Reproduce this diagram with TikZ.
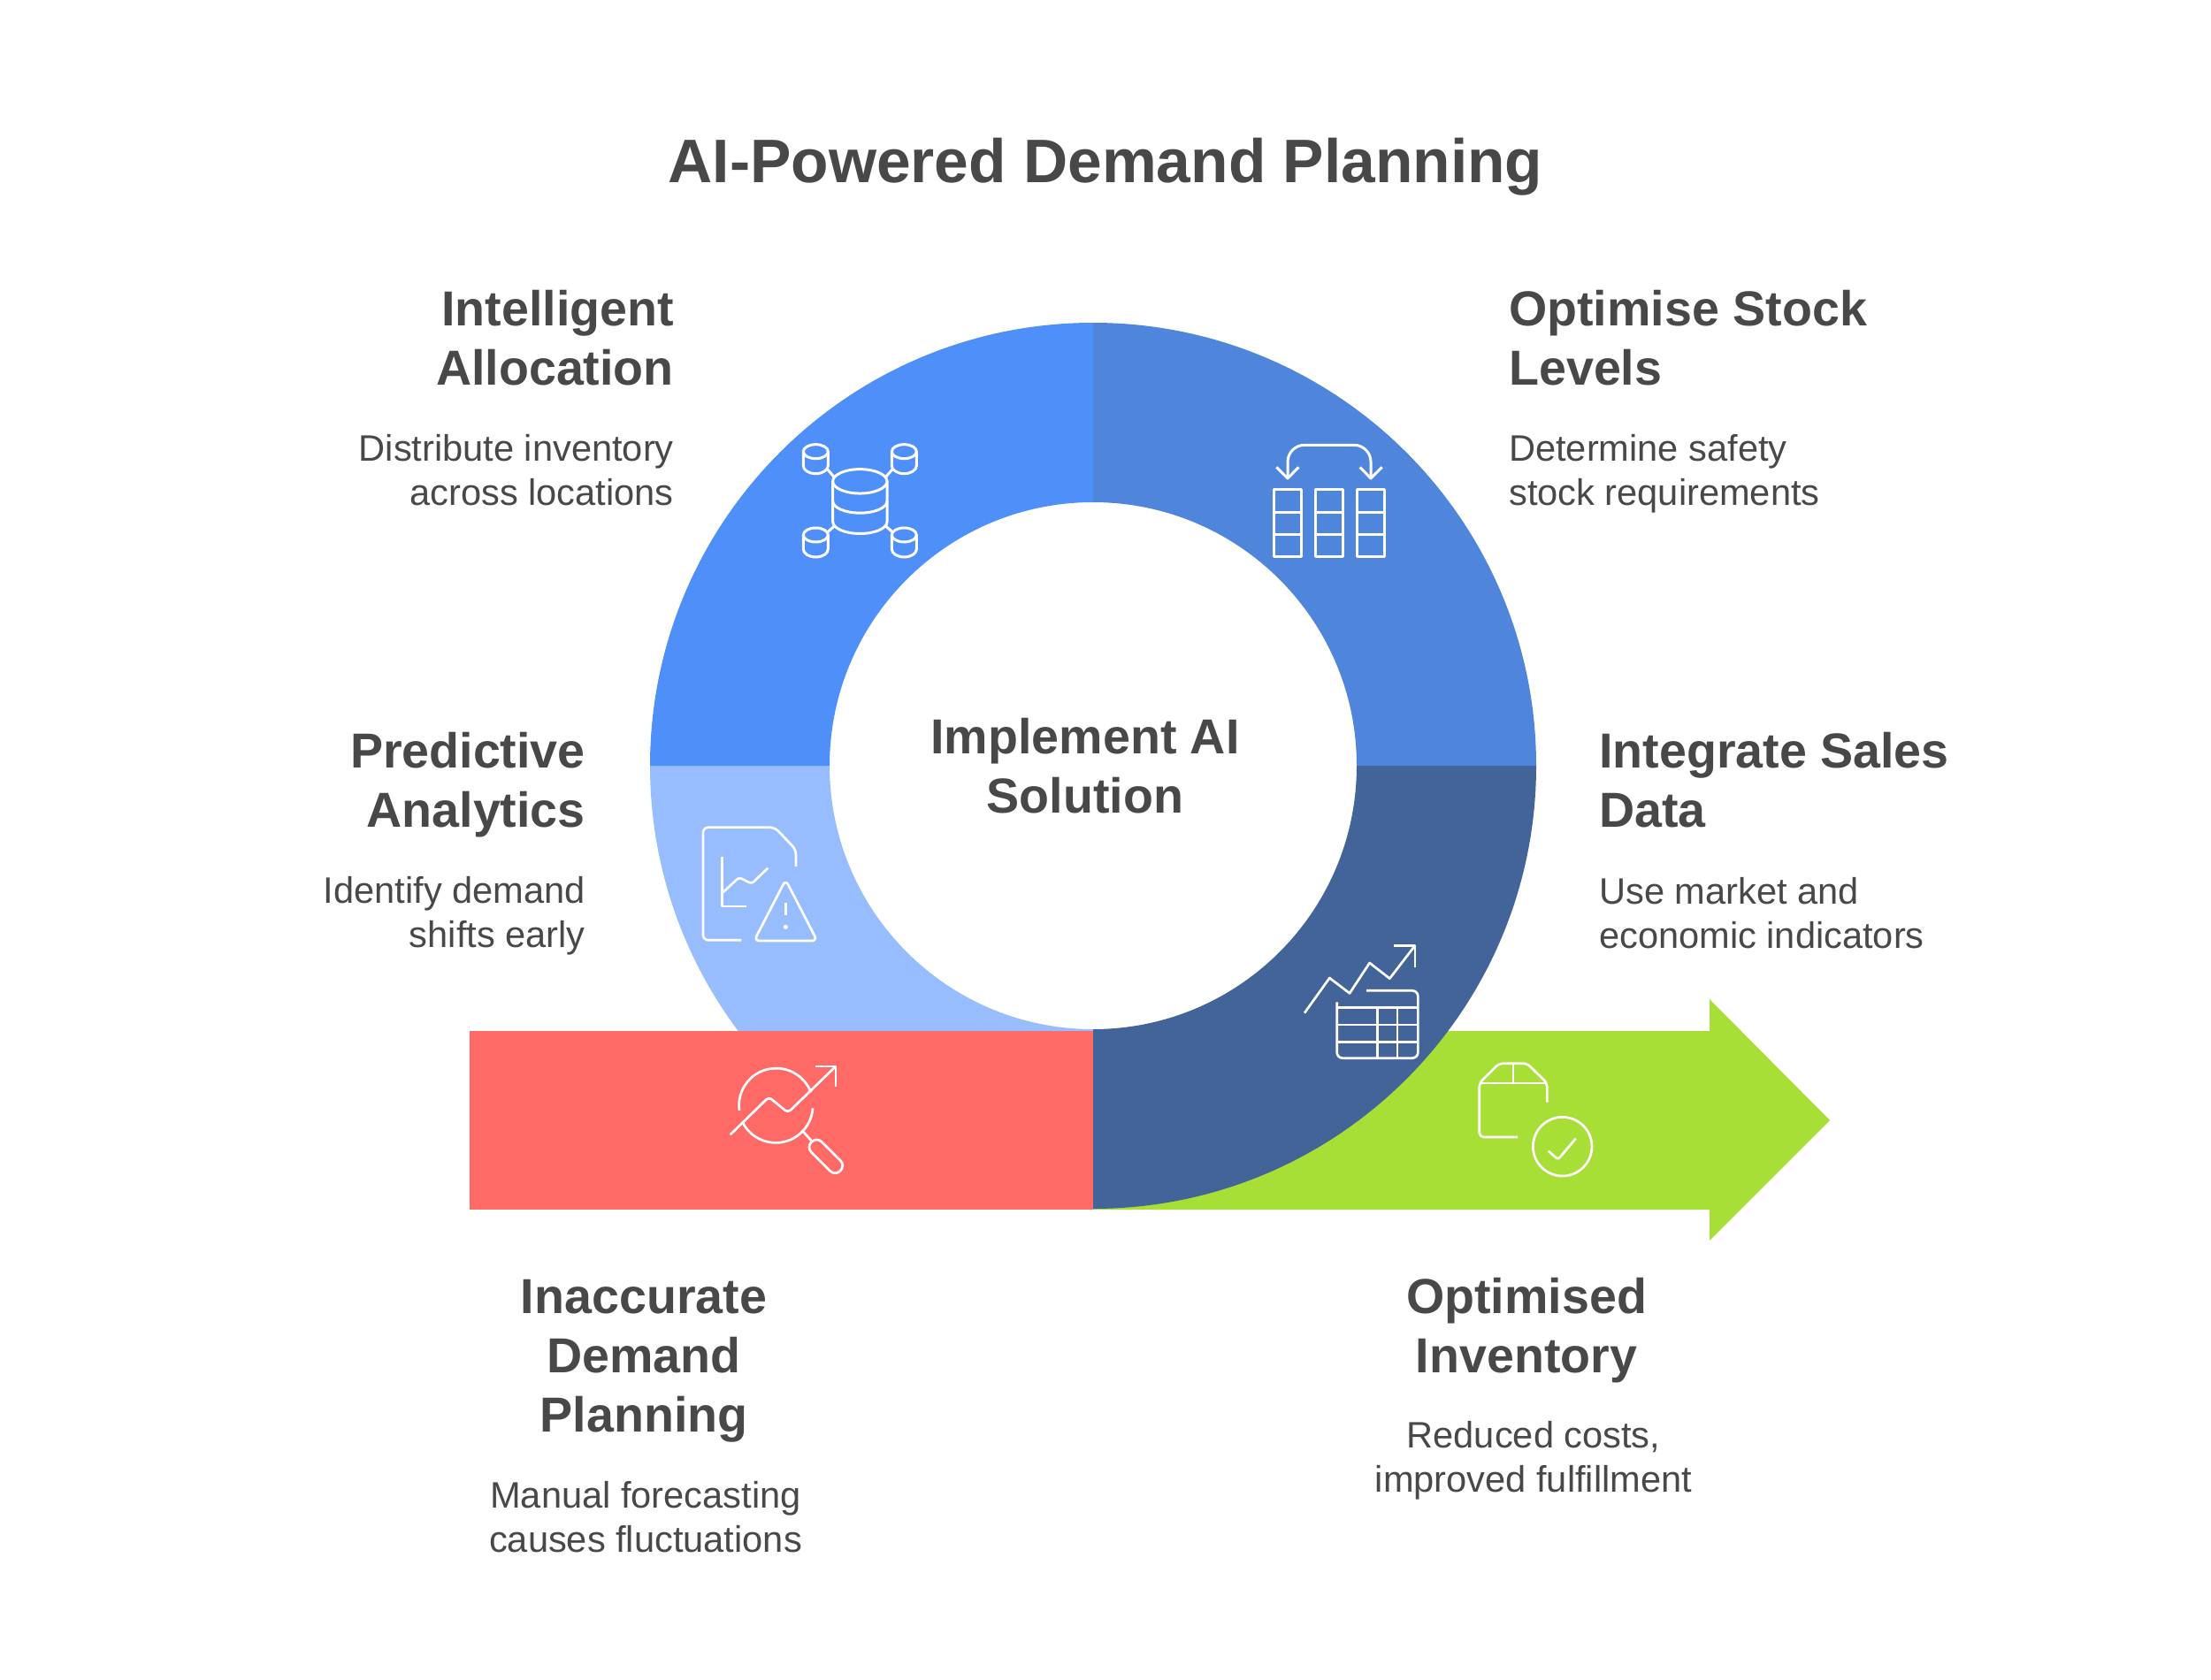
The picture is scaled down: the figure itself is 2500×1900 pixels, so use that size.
\documentclass[tikz,border=0pt]{standalone}
\usepackage{fontspec}
\setmainfont{Liberation Sans}
\definecolor{txt}{HTML}{484848}
\definecolor{bluea}{HTML}{4F8FFA}
\definecolor{blueb}{HTML}{5085DC}
\definecolor{bluec}{HTML}{436499}
\definecolor{blued}{HTML}{97BDFE}
\definecolor{redbar}{HTML}{FF6A67}
\definecolor{greenbar}{HTML}{A8DF37}
\tikzset{
  head/.style={font=\bfseries\fontsize{55.6}{67}\selectfont,text=txt,inner sep=0pt},
  desc/.style={font=\fontsize{41.6}{50}\selectfont,text=txt,inner sep=0pt},
  icon/.style={draw=white,line width=3pt,line join=round,fill=none},
  thin icon/.style={draw=white,line width=2.7pt,line join=round,fill=none},
  zoomed/.style={shift={#1},x=0.33333pt,y=-0.33333pt}
}
\newcommand{\smallcyl}[2]{%
  \draw[icon] (#1,#2) ellipse [x radius=14pt,y radius=8pt];
  \draw[icon] ({#1-42},#2) -- ({#1-42},{#2+48}) arc[start angle=180,end angle=360,x radius=14pt,y radius=9pt] -- ({#1+42},#2);
}
\begin{document}
\begin{tikzpicture}[x=1pt,y=-1pt]
\useasboundingbox (0,0) rectangle (2500,1900);
\fill[white] (0,0) rectangle (2500,1900);
% ring, lower-left part lies under the bar
\fill[blued] (735,866) arc[start angle=180,end angle=270,radius=501pt] -- (1236,1164) arc[start angle=270,end angle=180,radius=298pt] -- cycle;
% bar and arrow
\fill[redbar] (531,1166) rectangle (1236,1368);
\fill[greenbar] (1236,1166) -- (1933,1166) -- (1933,1130) -- (2069,1267) -- (1933,1403) -- (1933,1368) -- (1236,1368) -- cycle;
% other ring segments
\fill[bluea] (735,866) arc[start angle=180,end angle=90,radius=501pt] -- (1236,568) arc[start angle=90,end angle=180,radius=298pt] -- cycle;
\fill[blueb] (1236,365) arc[start angle=90,end angle=0,radius=501pt] -- (1534,866) arc[start angle=0,end angle=90,radius=298pt] -- cycle;
\fill[bluec] (1737,866) arc[start angle=0,end angle=-90,radius=501pt] -- (1236,1164) arc[start angle=-90,end angle=0,radius=298pt] -- cycle;

% icon: database network
\begin{scope}[zoomed={(860,460)}]
  \smallcyl{187}{152}\smallcyl{487}{152}\smallcyl{187}{435}\smallcyl{487}{435}
  \draw[icon] (337,253) ellipse [x radius=30.7pt,y radius=13.7pt];
  \draw[icon] (245,253) -- (245,390) arc[start angle=180,end angle=360,x radius=30.7pt,y radius=13.5pt] -- (429,253);
  \draw[icon] (245,320) arc[start angle=180,end angle=360,x radius=30.7pt,y radius=13.5pt];
  \draw[icon] (225,210) -- (248,237) (449,210) -- (426,237) (228,425) -- (250,405) (447,425) -- (425,405);
\end{scope}
% icon: stock columns
\begin{scope}[zoomed={(1400,460)}]
  \foreach \cx in {120,261,403}{
    \draw[icon] (\cx,281) rectangle ({\cx+94},508);
    \draw[icon] (\cx,357) -- ({\cx+94},357) (\cx,433) -- ({\cx+94},433);
  }
  \draw[icon,rounded corners=19pt] (168,240) -- (168,130) -- (450,130) -- (450,240);
  \draw[icon] (130,205) -- (168,243) -- (205,205) (413,205) -- (450,243) -- (488,205);
\end{scope}
% icon: document with warning
\begin{scope}[zoomed={(770,900)}]
  \draw[thin icon,rounded corners=6pt] (205,490) -- (75,490) -- (75,107) -- (318,107) -- (390,183) -- (390,240);
  \draw[thin icon] (140,208) -- (140,375) -- (222,375);
  \draw[thin icon,rounded corners=3pt] (140,330) -- (197,277) -- (240,298) -- (295,245);
  \draw[thin icon,rounded corners=6pt] (355,285) -- (248,492) -- (462,492) -- cycle;
  \draw[thin icon] (355,362) -- (355,405);
  \fill[white] (355,445) circle [radius=2.6pt];
\end{scope}
% icon: trend and table
\begin{scope}[zoomed={(1450,1050)}]
  \draw[thin icon] (75,287) -- (160,168) -- (228,220) -- (296,117) -- (364,170) -- (450,58);
  \draw[thin icon] (377,58) -- (450,58) -- (450,132);
  \draw[thin icon,rounded corners=6.5pt] (285,211) -- (460,211) -- (460,440) -- (185,440) -- (185,250);
  \draw[thin icon] (185,268) -- (460,268) (185,327) -- (460,327) (185,386) -- (460,386);
  \draw[thin icon] (323,268) -- (323,440) (390,268) -- (390,440);
\end{scope}
% icon: magnifier
\begin{scope}[zoomed={(810,1190)}]
  \draw[thin icon] (78,198) arc[start angle=188,end angle=21,radius=42pt];
  \draw[thin icon] (327,190) arc[start angle=-4,end angle=-154,radius=42pt];
  \draw[thin icon,rounded corners=4pt] (47,280) -- (178,152) -- (243,205) -- (405,48);
  \draw[thin icon] (337,48) -- (405,48) -- (405,117);
  \draw[thin icon] (295,270) -- (325,303);
  \draw[thin icon,rounded corners=8pt] (340,287) -- (438,385) -- (403,420) -- (305,322) -- cycle;
\end{scope}
% icon: box with check
\begin{scope}[zoomed={(1650,1190)}]
  \draw[thin icon,rounded corners=5pt] (298,170) -- (298,105) -- (230,38) -- (135,38) -- (68,105) -- (68,288) -- (198,288);
  \draw[thin icon] (68,105) -- (298,105) (183,38) -- (183,105);
  \draw[thin icon] (350,320) circle [radius=33.3pt];
  \draw[thin icon,rounded corners=3pt] (302,335) -- (335,364) -- (395,293);
\end{scope}

% texts
\node[font=\bfseries\fontsize{69.5}{72}\selectfont,text=txt,inner sep=0pt] (title) at (1250,189) {AI-Powered Demand Planning};
\node[head,align=center] (center) at (1227,866) {Implement AI\\Solution};
\node[head,align=right,anchor=east] (h1) at (762,382) {Intelligent\\Allocation};
\node[desc,align=right,anchor=east] (d1) at (762,532) {Distribute inventory\\across locations};
\node[head,align=left,anchor=west] (h2) at (1706,382) {Optimise Stock\\Levels};
\node[desc,align=left,anchor=west] (d2) at (1706,536) {Determine safety\\stock requirements};
\node[head,align=right,anchor=east] (h3) at (662,888) {Predictive\\Analytics};
\node[desc,align=right,anchor=east] (d3) at (662,1036) {Identify demand\\shifts early};
\node[head,align=left,anchor=west] (h4) at (1808,882) {Integrate Sales\\Data};
\node[desc,align=left,anchor=west] (d4) at (1808,1032.5) {Use market and\\economic indicators};
\node[head,align=center] (h5) at (728,1539) {Inaccurate\\Demand\\Planning};
\node[desc,align=center] (d5) at (730,1715.5) {Manual forecasting\\causes fluctuations};
\node[head,align=center] (h6) at (1726,1505) {Optimised\\Inventory};
\node[desc,align=center] (d6) at (1734,1652) {Reduced costs,\\improved fulfillment};
\end{tikzpicture}
\end{document}
